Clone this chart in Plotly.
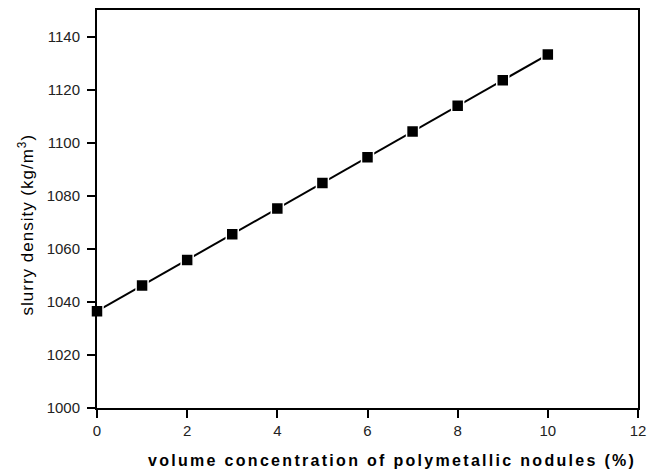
import plotly.graph_objects as go

concentration = [0, 1, 2, 3, 4, 5, 6, 7, 8, 9, 10]
density = [1036.5, 1046.2, 1055.8, 1065.5, 1075.2, 1084.8, 1094.5, 1104.2, 1113.9, 1123.5, 1133.2]

x_ticks = [0, 2, 4, 6, 8, 10, 12]
y_ticks = [1000, 1020, 1040, 1060, 1080, 1100, 1120, 1140]

x_title = "volume concentration of polymetallic nodules (%)"
y_title = "slurry density (kg/m<sup>3</sup>)"

FONT = "Liberation Sans, Arial, sans-serif"

fig = go.Figure()
fig.add_trace(go.Scatter(
    x=concentration, y=density, mode="lines+markers",
    line=dict(color="black", width=2),
    marker=dict(symbol="square", size=12, color="black", line=dict(color="white", width=1.5)),
    showlegend=False, cliponaxis=False,
))

axis_common = dict(
    showgrid=False, zeroline=False, showline=True, linecolor="black", linewidth=2,
    mirror=True, ticks="outside", ticklen=8, tickwidth=2, tickcolor="black",
    tickfont=dict(family=FONT, size=15, color="#222222"),
)

fig.update_xaxes(range=[0, 12], tickvals=x_ticks, **axis_common)
fig.update_yaxes(range=[1000, 1150], tickvals=y_ticks, ticklabelstandoff=4, **axis_common)

fig.add_annotation(
    text='<span style="letter-spacing:2.3px">' + x_title + '</span>',
    xref="paper", yref="paper", x=0.545, y=-0.1325,
    xanchor="center", yanchor="middle", showarrow=False,
    font=dict(family=FONT, size=16, color="black", weight="bold"),
)
fig.add_annotation(
    text='<span style="letter-spacing:1px">' + y_title + '</span>',
    xref="paper", yref="paper", x=-0.132, y=0.46,
    xanchor="center", yanchor="middle", showarrow=False, textangle=-90,
    font=dict(family=FONT, size=17, color="black"),
)

fig.update_layout(
    width=661, height=473,
    margin=dict(l=97, r=23, t=8, b=65),
    paper_bgcolor="white", plot_bgcolor="white",
)

fig.write_html("out.html")
